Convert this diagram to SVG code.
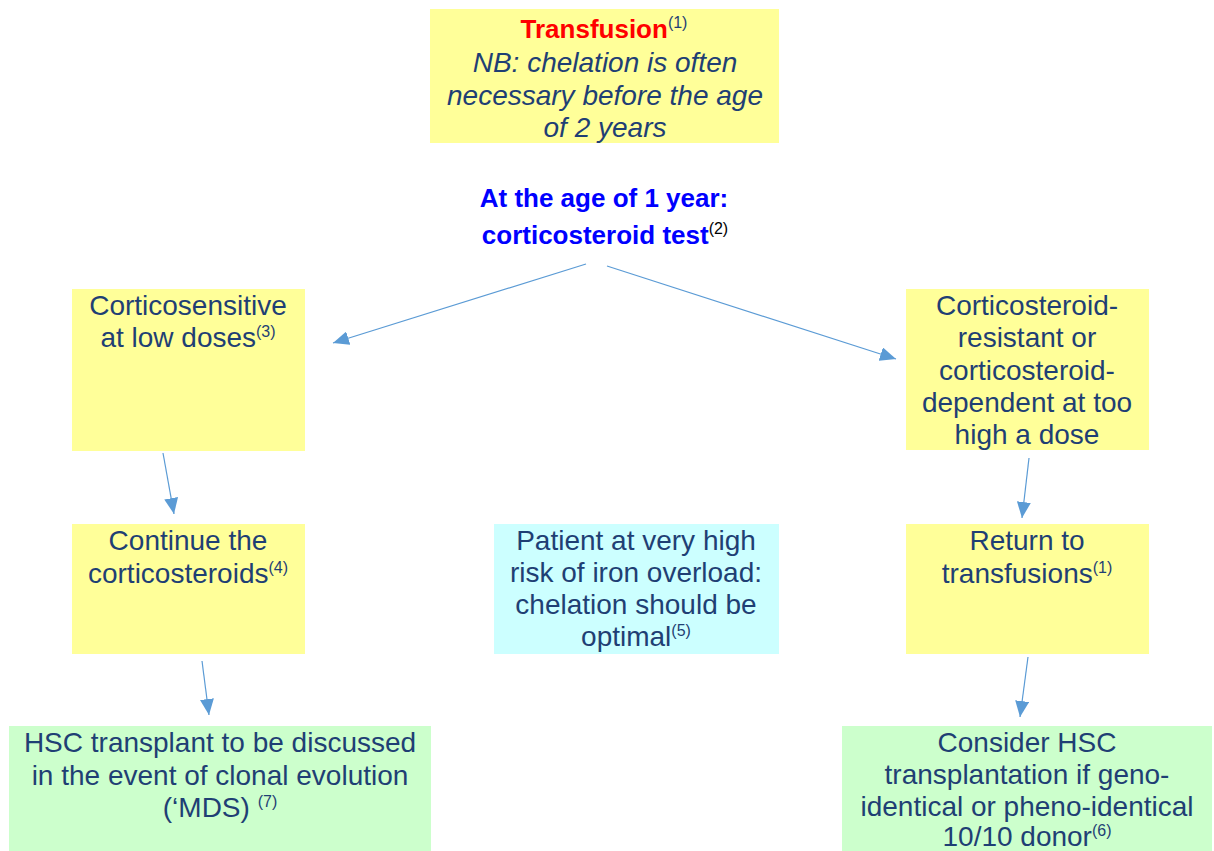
<svg xmlns="http://www.w3.org/2000/svg" width="1214" height="851" viewBox="0 0 1214 851">
<style>
.y{fill:#FFFF99}
.c{fill:#CCFFFF}
.g{fill:#CCFFCC}
.t{font-family:"Liberation Sans",Arial,sans-serif;font-size:28px;fill:#1F3F74;text-anchor:middle}
.it{font-style:italic}
.sup{font-size:16px}
.red{fill:#FF0000;font-weight:bold;font-size:26px}
.blue{fill:#0000FF;font-weight:bold;font-size:26px}
.blk{fill:#000000;font-weight:normal}
.ln{stroke:#5B9BD5;stroke-width:1.2;fill:none;marker-end:url(#ah)}
</style>
<defs>
<marker id="ah" markerUnits="userSpaceOnUse" markerWidth="16" markerHeight="14" refX="16" refY="7" orient="auto">
<path d="M0,0 L16,7 L0,14 z" fill="#5B9BD5"/>
</marker>
</defs>
<rect width="1214" height="851" fill="#FFFFFF"/>
<g id="transfusion">
<rect class="y" x="430" y="9" width="349" height="134"/>
<text class="t" x="604" y="38"><tspan class="red">Transfusion</tspan><tspan class="sup" dy="-10">(1)</tspan></text>
<text class="t it" x="605" y="72">NB: chelation is often</text>
<text class="t it" x="605" y="105">necessary before the age</text>
<text class="t it" x="605" y="137">of 2 years</text>
</g>
<g id="test">
<text class="t blue" x="604" y="207">At the age of 1 year:</text>
<text class="t blue" x="605" y="244">corticosteroid test<tspan class="sup blk" dy="-10">(2)</tspan></text>
</g>
<g id="sensitive">
<rect class="y" x="72" y="289" width="233" height="162"/>
<text class="t" x="188" y="315">Corticosensitive</text>
<text class="t" x="188" y="347">at low doses<tspan class="sup" dy="-10">(3)</tspan></text>
</g>
<g id="resistant">
<rect class="y" x="906" y="289" width="243" height="161"/>
<text class="t" x="1027" y="315">Corticosteroid-</text>
<text class="t" x="1027" y="347">resistant or</text>
<text class="t" x="1027" y="380">corticosteroid-</text>
<text class="t" x="1027" y="412">dependent at too</text>
<text class="t" x="1027" y="444">high a dose</text>
</g>
<g id="continue">
<rect class="y" x="72" y="524" width="233" height="130"/>
<text class="t" x="188" y="550">Continue the</text>
<text class="t" x="188" y="583">corticosteroids<tspan class="sup" dy="-10">(4)</tspan></text>
</g>
<g id="risk">
<rect class="c" x="494" y="524" width="285" height="130"/>
<text class="t" x="636" y="550">Patient at very high</text>
<text class="t" x="636" y="582">risk of iron overload:</text>
<text class="t" x="636" y="614">chelation should be</text>
<text class="t" x="636" y="646">optimal<tspan class="sup" dy="-10">(5)</tspan></text>
</g>
<g id="return">
<rect class="y" x="906" y="524" width="243" height="130"/>
<text class="t" x="1027" y="550">Return to</text>
<text class="t" x="1027" y="583">transfusions<tspan class="sup" dy="-10">(1)</tspan></text>
</g>
<g id="hsc-left">
<rect class="g" x="9" y="726" width="422" height="125"/>
<text class="t" x="220" y="752">HSC transplant to be discussed</text>
<text class="t" x="220" y="785">in the event of clonal evolution</text>
<text class="t" x="220" y="817">(‘MDS) <tspan class="sup" dy="-10">(7)</tspan></text>
</g>
<g id="hsc-right">
<rect class="g" x="842" y="726" width="370" height="125"/>
<text class="t" x="1027" y="752">Consider HSC</text>
<text class="t" x="1027" y="784">transplantation if geno-</text>
<text class="t" x="1027" y="816">identical or pheno-identical</text>
<text class="t" x="1027" y="846">10/10 donor<tspan class="sup" dy="-10">(6)</tspan></text>
</g>
<g id="connectors">
<line class="ln" x1="586" y1="264" x2="333" y2="343"/>
<line class="ln" x1="607" y1="266" x2="896" y2="359"/>
<line class="ln" x1="163" y1="453" x2="174" y2="514"/>
<line class="ln" x1="1029" y1="458" x2="1022" y2="518"/>
<line class="ln" x1="202" y1="661" x2="209" y2="715"/>
<line class="ln" x1="1028" y1="657" x2="1020" y2="717"/>
</g>
</svg>
